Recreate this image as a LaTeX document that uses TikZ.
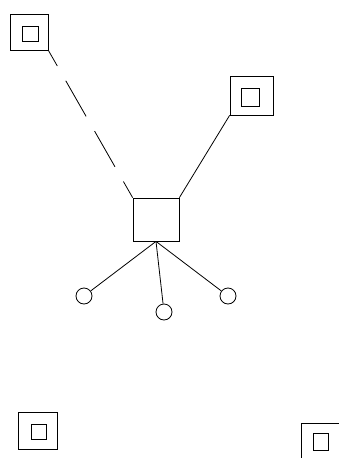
\documentclass[tikz,border=0pt]{standalone}
\begin{document}
\begin{tikzpicture}[x=1pt,y=-1pt,
  outerbox/.style={draw,line width=0.8pt,inner sep=0pt,minimum width=#1},
  innerbox/.style={draw,line width=0.9pt,inner sep=0pt,minimum width=#1},
  port/.style={draw,circle,line width=0.8pt,inner sep=0pt,minimum size=16pt},
  link/.style={line width=0.8pt},
  longdash/.style={line width=0.8pt,dash pattern=on 41pt off 17pt,dash phase=23pt}]
\useasboundingbox (0,0) rectangle (339,458);
\clip (0,0) rectangle (339,458);
% corner stations: outer frame with an inner square
\node[outerbox=38pt,minimum height=36pt] (tl) at (29,32) {};
\node[innerbox=16pt,minimum height=15pt] (tli) at (30.5,33.5) {};
\node[outerbox=43pt,minimum height=39pt] (tr) at (251.5,95.5) {};
\node[innerbox=18pt,minimum height=18pt] (tri) at (250,97) {};
\node[outerbox=39pt,minimum height=37pt] (bl) at (37.5,430.5) {};
\node[innerbox=15pt,minimum height=15pt] (bli) at (38.5,431.5) {};
\node[outerbox=39pt,minimum height=37pt] (br) at (320.5,441.5) {};
\node[innerbox=15pt,minimum height=17pt] (bri) at (320.5,441.5) {};
% central hub and its three terminals
\node[draw,line width=0.8pt,inner sep=0pt,minimum width=46pt,minimum height=43pt] (hub) at (156,219.5) {};
\node[port] (c1) at (84,296) {};
\node[port] (c2) at (164,312) {};
\node[port] (c3) at (228,296) {};
% connections
\draw[longdash] (tl.south east) -- (hub.north west);
\draw[link] (tr.south west) -- (hub.north east);
\draw[link] (hub.south) -- (c1);
\draw[link] (hub.south) -- (c2);
\draw[link] (hub.south) -- (c3);
\end{tikzpicture}
\end{document}
